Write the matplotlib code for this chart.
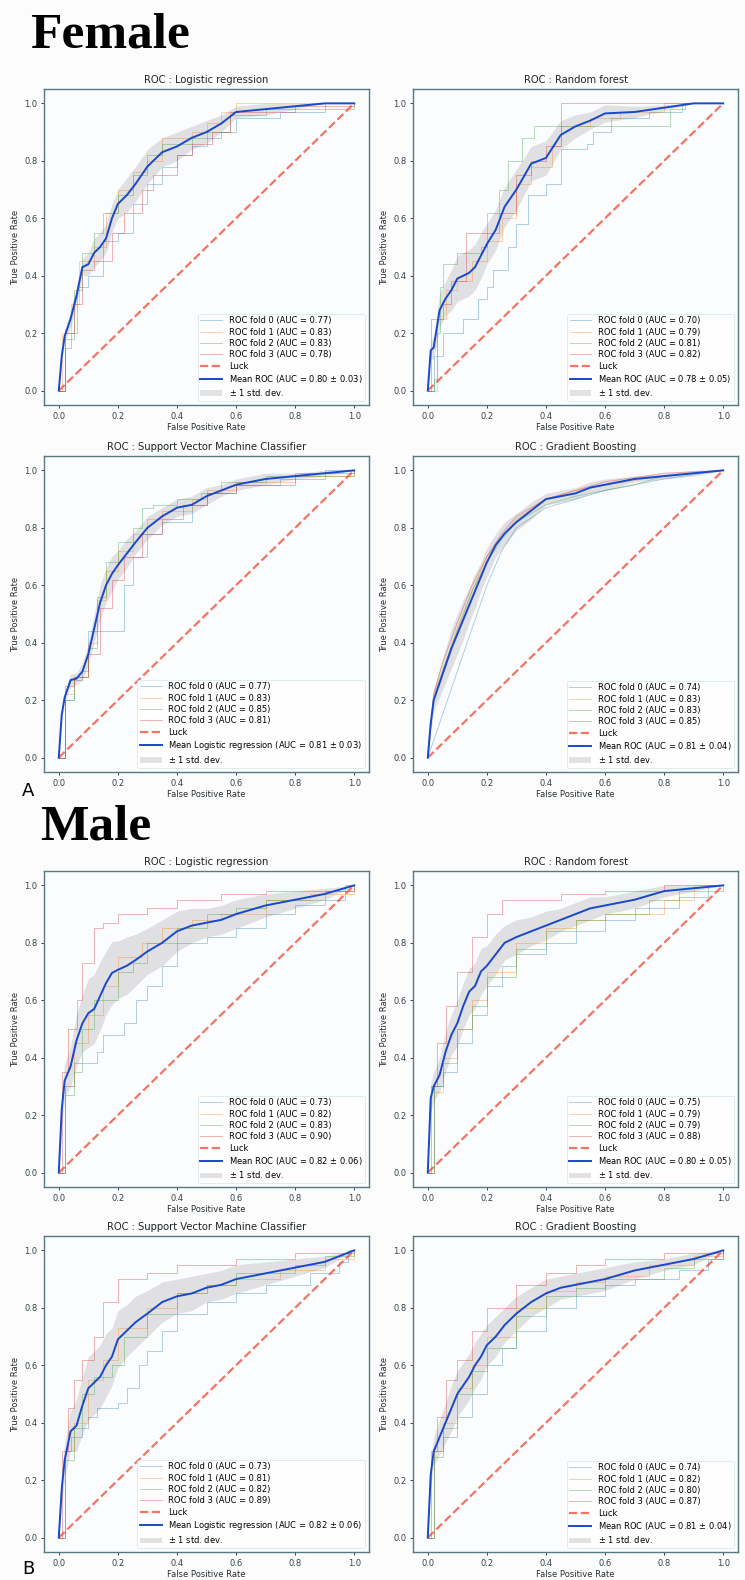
import matplotlib.pyplot as plt
import numpy as np

# common fpr grid used for the mean curves and the std bands
MEAN_FPR = [0, .01, .02, .04, .06, .08, .10, .12, .14, .16, .18, .20, .23,
            .26, .30, .35, .40, .45, .50, .55, .60, .70, .80, .90, 1.0]

TITLES = ['Logistic regression', 'Random forest',
          'Support Vector Machine Classifier', 'Gradient Boosting']
MEAN_NAMES = ['Mean ROC', 'Mean ROC', 'Mean Logistic regression', 'Mean ROC']

# ---------------- Female ----------------
F_FOLD_AUC = [[0.77, 0.83, 0.83, 0.78],
              [0.70, 0.79, 0.81, 0.82],
              [0.77, 0.83, 0.85, 0.81],
              [0.74, 0.83, 0.83, 0.85]]
F_MEAN_AUC = [0.80, 0.78, 0.81, 0.81]
F_STD_AUC = [0.03, 0.05, 0.03, 0.04]

F_LR_TPR = [0, .12, .19, .25, .33, .43, .44, .48, .50, .53, .60, .65, .68,
            .72, .78, .83, .85, .88, .90, .93, .97, .98, .99, 1.0, 1.0]
F_LR_STD = [0, .02, .02, .03, .03, .03, .04, .05, .05, .05, .05, .05, .06,
            .06, .06, .05, .05, .04, .04, .03, .02, .02, .01, 0, 0]
F_RF_TPR = [0, .14, .15, .28, .32, .35, .39, .40, .41, .43, .47, .51, .56,
            .64, .70, .79, .81, .89, .92, .94, .965, .97, .985, 1.0, 1.0]
F_RF_STD = [0, .03, .04, .06, .06, .07, .08, .08, .08, .08, .08, .07, .07,
            .07, .07, .06, .06, .05, .04, .03, .03, .02, .01, 0, 0]
F_SVM_TPR = [0, .15, .21, .27, .275, .30, .36, .45, .54, .60, .64, .67, .71,
             .75, .80, .84, .87, .88, .91, .93, .95, .97, .98, .99, 1.0]
F_SVM_STD = [0, .02, .02, .02, .02, .03, .04, .05, .06, .06, .06, .05, .05,
             .04, .04, .03, .03, .03, .03, .02, .02, .02, .01, .01, 0]
F_GB_TPR = [0, .12, .20, .26, .32, .38, .43, .48, .53, .58, .63, .68, .74,
            .78, .82, .86, .90, .91, .92, .94, .95, .97, .98, .99, 1.0]
F_GB_STD = [0, .03, .04, .05, .06, .07, .07, .07, .06, .06, .05, .05, .04,
            .04, .03, .03, .02, .02, .02, .02, .02, .01, .01, .01, 0]

F_LR_FOLDS = [
    [(0, 0), (.02, .15), (.04, .20), (.06, .36), (.10, .40), (.15, .52), (.20, .55), (.25, .65),
     (.30, .72), (.35, .78), (.40, .82), (.45, .85), (.50, .88), (.55, .90), (.60, .95), (.75, .97),
     (.90, 1.0), (1, 1)],
    [(0, 0), (.01, .20), (.04, .30), (.07, .45), (.12, .50), (.16, .62), (.20, .70), (.25, .76),
     (.30, .80), (.35, .88), (.45, .90), (.50, .93), (.55, .97), (.60, 1.0), (1, 1)],
    [(0, 0), (.02, .18), (.05, .35), (.08, .48), (.12, .55), (.15, .62), (.20, .68), (.25, .75),
     (.30, .82), (.35, .86), (.45, .88), (.50, .90), (.58, .96), (.70, .98), (1, 1)],
    [(0, 0), (.02, .20), (.05, .30), (.08, .42), (.12, .45), (.18, .55), (.22, .62), (.28, .70),
     (.32, .75), (.40, .82), (.45, .86), (.52, .90), (.58, .97), (.80, .99), (1, 1)],
]
F_RF_FOLDS = [
    [(0, 0), (.02, .12), (.05, .20), (.10, .20), (.12, .25), (.17, .32), (.20, .36), (.22, .42),
     (.27, .50), (.30, .58), (.34, .68), (.40, .72), (.45, .84), (.54, .86), (.56, .90), (.62, .95),
     (.75, .97), (.86, .98), (.87, 1.0), (1, 1)],
    [(0, 0), (.03, .25), (.06, .35), (.10, .38), (.15, .45), (.20, .52), (.25, .60), (.30, .72),
     (.35, .78), (.42, .85), (.45, .92), (.55, .95), (.65, .97), (.80, 1.0), (1, 1)],
    [(0, 0), (.02, .04), (.03, .20), (.04, .36), (.05, .44), (.10, .48), (.18, .50), (.20, .62),
     (.24, .70), (.27, .80), (.32, .88), (.36, .92), (.80, .92), (.82, .98), (.86, 1.0), (1, 1)],
    [(0, 0), (.01, .25), (.05, .30), (.08, .38), (.13, .55), (.20, .55), (.24, .62), (.30, .75),
     (.35, .80), (.40, .85), (.45, 1.0), (1, 1)],
]
F_SVM_FOLDS = [
    [(0, 0), (.02, .20), (.05, .27), (.08, .30), (.10, .44), (.20, .44), (.22, .60), (.25, .70),
     (.30, .78), (.35, .82), (.45, .88), (.50, .92), (.60, .95), (.75, .97), (.90, 1.0), (1, 1)],
    [(0, 0), (.02, .22), (.05, .28), (.10, .40), (.13, .55), (.16, .65), (.20, .72), (.25, .78),
     (.30, .83), (.35, .86), (.45, .90), (.50, .93), (.60, .96), (.80, .98), (1, 1)],
    [(0, 0), (.02, .20), (.05, .28), (.10, .38), (.13, .56), (.16, .68), (.20, .75), (.25, .80),
     (.28, .87), (.32, .88), (.40, .90), (.48, .92), (.55, .96), (.70, .98), (1, 1)],
    [(0, 0), (.02, .25), (.05, .28), (.10, .36), (.14, .52), (.18, .62), (.22, .70), (.28, .78),
     (.35, .83), (.42, .88), (.50, .92), (.60, .95), (.80, .99), (1, 1)],
]
F_GB_FOLDS = [
    [(0, 0), (.02, .06), (.05, .15), (.10, .30), (.15, .45), (.20, .60), (.25, .72), (.30, .80),
     (.40, .87), (.50, .90), (.60, .93), (.80, .97), (1, 1)],
    [(0, 0), (.02, .22), (.05, .30), (.10, .45), (.15, .58), (.20, .70), (.25, .77), (.30, .83),
     (.40, .90), (.50, .93), (.60, .95), (.80, .98), (1, 1)],
    [(0, 0), (.02, .20), (.05, .30), (.10, .44), (.15, .58), (.20, .68), (.25, .76), (.30, .82),
     (.40, .88), (.50, .91), (.55, .92), (.70, .95), (.80, .98), (1, 1)],
    [(0, 0), (.02, .22), (.05, .33), (.10, .47), (.15, .60), (.20, .70), (.25, .78), (.30, .84),
     (.40, .90), (.50, .93), (.60, .96), (.80, .99), (1, 1)],
]

# ---------------- Male ----------------
M_FOLD_AUC = [[0.73, 0.82, 0.83, 0.90],
              [0.75, 0.79, 0.79, 0.88],
              [0.73, 0.81, 0.82, 0.89],
              [0.74, 0.82, 0.80, 0.87]]
M_MEAN_AUC = [0.82, 0.80, 0.82, 0.81]
M_STD_AUC = [0.06, 0.05, 0.06, 0.04]

M_LR_TPR = [0, .22, .32, .37, .46, .52, .555, .57, .615, .66, .695, .706, .72,
            .74, .77, .80, .84, .86, .87, .88, .90, .93, .95, .97, 1.0]
M_LR_STD = [0, .06, .06, .07, .09, .10, .12, .12, .12, .11, .11, .10, .10,
            .09, .08, .08, .07, .06, .05, .05, .05, .04, .03, .02, 0]
M_RF_TPR = [0, .26, .30, .34, .42, .48, .52, .58, .63, .65, .70, .72, .76,
            .80, .82, .84, .86, .88, .90, .92, .93, .95, .98, .99, 1.0]
M_RF_STD = [0, .05, .05, .06, .07, .07, .08, .08, .08, .08, .08, .07, .07,
            .06, .06, .05, .05, .04, .04, .04, .03, .03, .02, .01, 0]
M_SVM_TPR = [0, .17, .27, .37, .39, .46, .52, .54, .56, .60, .63, .69, .72,
             .75, .78, .82, .84, .85, .87, .88, .90, .92, .94, .96, 1.0]
M_SVM_STD = [0, .06, .06, .07, .09, .10, .11, .11, .11, .11, .10, .10, .09,
             .09, .08, .07, .06, .06, .05, .05, .05, .04, .03, .02, 0]
M_GB_TPR = [0, .22, .30, .35, .40, .45, .50, .53, .56, .60, .63, .67, .70,
            .74, .78, .82, .85, .87, .88, .89, .90, .93, .95, .97, 1.0]
M_GB_STD = [0, .04, .05, .06, .07, .08, .08, .08, .08, .08, .08, .07, .07,
            .06, .06, .05, .05, .04, .04, .04, .04, .03, .02, .02, 0]

M_LR_FOLDS = [
    [(0, 0), (.02, .30), (.05, .38), (.10, .38), (.13, .42), (.15, .48), (.20, .48), (.22, .52),
     (.26, .60), (.30, .65), (.35, .72), (.40, .80), (.50, .82), (.60, .85), (.70, .90), (.80, .93),
     (.90, .95), (.97, 1.0), (1, 1)],
    [(0, 0), (.02, .30), (.05, .45), (.10, .55), (.15, .65), (.20, .75), (.28, .80), (.35, .85),
     (.45, .88), (.55, .90), (.70, .95), (.85, .97), (1, 1)],
    [(0, 0), (.02, .27), (.05, .35), (.08, .50), (.12, .60), (.20, .70), (.25, .73), (.30, .80),
     (.40, .85), (.50, .90), (.60, .92), (.70, .95), (.90, .98), (1, 1)],
    [(0, 0), (.01, .35), (.03, .50), (.06, .60), (.08, .73), (.12, .85), (.15, .87), (.20, .90),
     (.30, .92), (.40, .95), (.55, .97), (.70, .98), (1, 1)],
]
M_RF_FOLDS = [
    [(0, 0), (.02, .30), (.05, .35), (.10, .45), (.15, .55), (.20, .65), (.25, .72), (.30, .76),
     (.40, .80), (.50, .84), (.60, .88), (.70, .92), (.85, .96), (.95, 1.0), (1, 1)],
    [(0, 0), (.02, .28), (.05, .40), (.10, .50), (.15, .60), (.20, .70), (.30, .80), (.40, .85),
     (.50, .88), (.60, .90), (.80, .95), (.90, 1.0), (1, 1)],
    [(0, 0), (.02, .30), (.05, .38), (.10, .50), (.15, .58), (.20, .68), (.30, .78), (.40, .84),
     (.50, .88), (.60, .90), (.75, .95), (.85, .98), (1, 1)],
    [(0, 0), (.01, .30), (.03, .45), (.06, .58), (.10, .70), (.15, .82), (.20, .90), (.25, .95),
     (.35, .95), (.45, .97), (.60, .98), (.80, 1.0), (1, 1)],
]
M_SVM_FOLDS = [
    [(0, 0), (.02, .30), (.04, .35), (.08, .38), (.10, .42), (.13, .45), (.20, .47), (.23, .52),
     (.27, .60), (.30, .65), (.35, .72), (.40, .78), (.50, .82), (.60, .85), (.70, .88), (.85, .92),
     (.95, .96), (.98, 1.0), (1, 1)],
    [(0, 0), (.02, .30), (.05, .40), (.10, .55), (.15, .62), (.20, .73), (.30, .80), (.40, .85),
     (.50, .88), (.60, .90), (.75, .93), (.90, .97), (1, 1)],
    [(0, 0), (.02, .27), (.05, .38), (.08, .50), (.12, .56), (.18, .60), (.22, .70), (.30, .78),
     (.40, .85), (.50, .88), (.60, .92), (.80, .95), (.90, .98), (1, 1)],
    [(0, 0), (.01, .30), (.03, .45), (.05, .55), (.08, .62), (.12, .70), (.15, .82), (.20, .90),
     (.30, .92), (.40, .95), (.60, .97), (.80, .99), (1, 1)],
]
M_GB_FOLDS = [
    [(0, 0), (.02, .30), (.05, .35), (.10, .42), (.15, .50), (.20, .60), (.25, .66), (.30, .72),
     (.40, .80), (.50, .84), (.60, .88), (.70, .90), (.85, .93), (.95, .97), (1, 1)],
    [(0, 0), (.02, .30), (.05, .40), (.10, .52), (.15, .60), (.20, .70), (.30, .80), (.40, .86),
     (.50, .89), (.60, .91), (.75, .95), (.90, .98), (1, 1)],
    [(0, 0), (.02, .28), (.05, .38), (.10, .50), (.15, .58), (.20, .66), (.30, .77), (.40, .84),
     (.50, .87), (.60, .90), (.80, .94), (.90, .97), (1, 1)],
    [(0, 0), (.01, .30), (.03, .42), (.06, .55), (.10, .62), (.15, .72), (.20, .80), (.30, .88),
     (.40, .92), (.50, .95), (.60, .97), (.80, .99), (1, 1)],
]


def draw_panel(ax, title, folds, fold_auc, mean_tpr, std_tpr, mean_name,
               mean_auc, std_auc, steps=True):
    for k, pts in enumerate(folds):
        x, y = np.array(pts).T
        ax.plot(x, y, lw=0.7, alpha=0.35,
                drawstyle='steps-post' if steps else 'default',
                label='ROC fold %d (AUC = %0.2f)' % (k, fold_auc[k]))
    ax.plot([0, 1], [0, 1], linestyle='--', lw=1.6, color='#f0472e', alpha=.75,
            label='Luck')
    mean_tpr = np.array(mean_tpr)
    std_tpr = np.array(std_tpr)
    ax.plot(MEAN_FPR, mean_tpr, color='#1848cc', lw=1.4,
            label=r'%s (AUC = %0.2f $\pm$ %0.2f)' % (mean_name, mean_auc, std_auc))
    upper = np.minimum(mean_tpr + std_tpr, 1)
    lower = np.maximum(mean_tpr - std_tpr, 0)
    ax.fill_between(MEAN_FPR, lower, upper, color='grey', alpha=.22, lw=0,
                    label=r'$\pm$ 1 std. dev.')

    ax.set_xlim(-0.05, 1.05)
    ax.set_ylim(-0.05, 1.05)
    ax.set_xticks(np.arange(0, 1.01, 0.2))
    ax.set_yticks(np.arange(0, 1.01, 0.2))
    ax.tick_params(labelsize=6, length=2.2, width=0.7, colors='#33424a', pad=2.5)
    ax.set_xlabel('False Positive Rate', fontsize=6, labelpad=2, color='#262d32')
    ax.set_ylabel('True Positive Rate', fontsize=6, labelpad=3, color='#262d32')
    ax.set_title('ROC : ' + title, fontsize=7.2, pad=4, color='#1e2326')
    for s in ax.spines.values():
        s.set_color('#557882')
        s.set_linewidth(1.0)
    ax.set_facecolor('#fbfcfe')
    leg = ax.legend(loc='lower right', fontsize=6, handlelength=2.6,
                    borderpad=0.3, labelspacing=0.28, framealpha=0.8)
    leg.get_frame().set_edgecolor('#d3e3ea')
    leg.get_frame().set_linewidth(0.6)


fig = plt.figure(figsize=(7.45, 15.8), dpi=100, facecolor='#fcfcfd')
W, H = 745., 1580.
col_left = [44, 413]
row_top = [89, 456, 871, 1236]
ax_w, ax_h = 325, 316

panels = [
    (F_LR_FOLDS, F_LR_TPR, F_LR_STD), (F_RF_FOLDS, F_RF_TPR, F_RF_STD),
    (F_SVM_FOLDS, F_SVM_TPR, F_SVM_STD), (F_GB_FOLDS, F_GB_TPR, F_GB_STD),
    (M_LR_FOLDS, M_LR_TPR, M_LR_STD), (M_RF_FOLDS, M_RF_TPR, M_RF_STD),
    (M_SVM_FOLDS, M_SVM_TPR, M_SVM_STD), (M_GB_FOLDS, M_GB_TPR, M_GB_STD),
]
fold_aucs = F_FOLD_AUC + M_FOLD_AUC
mean_aucs = F_MEAN_AUC + M_MEAN_AUC
std_aucs = F_STD_AUC + M_STD_AUC

for i, (folds, tpr, std) in enumerate(panels):
    row, col = i // 2, i % 2
    ax = fig.add_axes([col_left[col] / W, 1 - (row_top[row] + ax_h) / H,
                       ax_w / W, ax_h / H])
    draw_panel(ax, TITLES[i % 4], folds, fold_aucs[i], tpr, std,
               MEAN_NAMES[i % 4], mean_aucs[i], std_aucs[i], steps=(i != 3))

# group headings and panel letters
fig.text(30 / W, 1 - 47 / H, 'Female', fontsize=37, fontweight='bold',
         family='Liberation Serif', va='baseline')
fig.text(40 / W, 1 - 839 / H, 'Male', fontsize=37, fontweight='bold',
         family='Liberation Serif', va='baseline')
fig.text(22 / W, 1 - 796 / H, 'A', fontsize=13, va='baseline')
fig.text(22 / W, 1 - 1574 / H, 'B', fontsize=13, va='baseline')

plt.savefig('out.png', dpi=100, facecolor=fig.get_facecolor())
